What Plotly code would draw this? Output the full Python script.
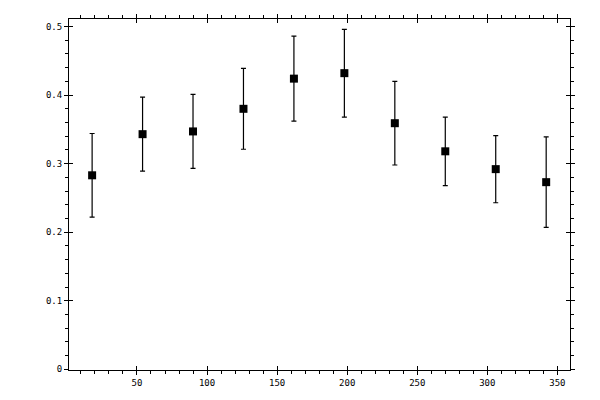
import plotly.graph_objects as go

# центры бинов и средние значения с ошибками
x_centers = [18, 54, 90, 126, 162, 198, 234, 270, 306, 342]
y_means = [0.283, 0.343, 0.347, 0.380, 0.424, 0.432, 0.359, 0.318, 0.292, 0.273]
y_err = [0.061, 0.054, 0.054, 0.059, 0.062, 0.064, 0.061, 0.050, 0.049, 0.066]

x_range = [1.5, 359]
y_range = [-0.001, 0.511]

fig = go.Figure()
fig.add_trace(go.Scatter(
    x=x_centers, y=y_means, mode='markers',
    marker=dict(symbol='square', size=8, color='black'),
    error_y=dict(type='data', array=y_err, visible=True, color='black', thickness=1.2, width=2.5),
    showlegend=False,
))
# пустой след для второй пары осей (внутренние засечки)
fig.add_trace(go.Scatter(x=[], y=[], xaxis='x2', yaxis='y2', showlegend=False))

tick_font = dict(family='DejaVu Sans Mono', size=9, color='black')

# страница в браузере сдвинута на 8px (отступ body), учитываем в полях
fig.update_layout(
    width=600, height=400,
    margin=dict(l=61, r=38, t=11, b=38),
    paper_bgcolor='white', plot_bgcolor='white',
    xaxis=dict(range=x_range, dtick=50, tick0=0, ticks='outside', ticklen=4, tickwidth=1,
               tickcolor='black', showline=True, linecolor='black', linewidth=1, mirror='ticks',
               showgrid=False, zeroline=False, tickfont=tick_font, automargin=False,
               minor=dict(dtick=10, ticks='outside', ticklen=3, tickwidth=1, tickcolor='black', showgrid=False)),
    yaxis=dict(range=y_range, dtick=0.1, tick0=0, ticks='outside', ticklen=4, tickwidth=1,
               tickcolor='black', showline=True, linecolor='black', linewidth=1, mirror='ticks',
               showgrid=False, zeroline=False, tickfont=tick_font, automargin=False,
               minor=dict(dtick=0.02, ticks='outside', ticklen=3, tickwidth=1, tickcolor='black', showgrid=False)),
    xaxis2=dict(range=x_range, overlaying='x', anchor='y2', dtick=50, tick0=0, ticks='inside', ticklen=4,
                tickwidth=1, tickcolor='black', mirror='ticks', showline=False, showgrid=False,
                zeroline=False, showticklabels=False, automargin=False),
    yaxis2=dict(range=y_range, overlaying='y', anchor='x2', dtick=0.1, tick0=0, ticks='inside', ticklen=4,
                tickwidth=1, tickcolor='black', mirror='ticks', showline=False, showgrid=False,
                zeroline=False, showticklabels=False, automargin=False),
)

fig.write_html("out.html")
